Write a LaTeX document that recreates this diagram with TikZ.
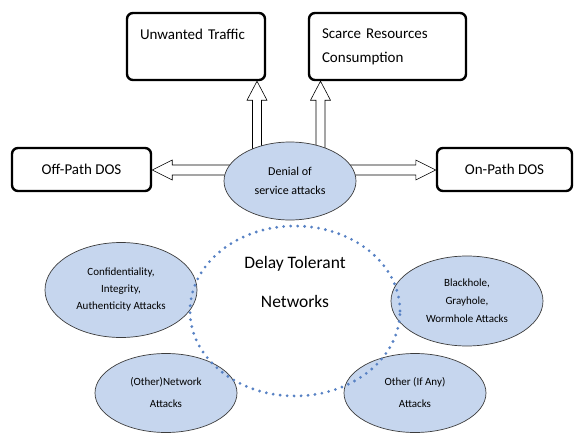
\documentclass[tikz,border=0pt]{standalone}
\usepackage{fontspec}
\setmainfont{Carlito}
\usetikzlibrary{shapes.geometric,calc}
\definecolor{ellfill}{RGB}{198,214,238}
\definecolor{ellline}{RGB}{60,60,60}
\definecolor{dotblue}{RGB}{88,130,196}
\tikzset{
  boxsty/.style={draw=black, line width=2.4pt, rounded corners=6pt, fill=white, inner sep=0pt},
  ellsty/.style={ellipse, draw=ellline, line width=0.7pt, fill=ellfill, inner sep=0pt, align=center},
  dtnsty/.style={ellipse, draw=dotblue, line width=3.1pt, dash pattern=on 0pt off 7pt, line cap=round, inner sep=0pt},
  arrsty/.style={draw=black, line width=0.6pt, fill=white, line join=miter},
}
% block arrow: start, end, shaft half width, head half width, head length
\newcommand\blockarr[5]{%
  \coordinate (bah) at ($(#2)!#5!(#1)$);
  \draw[arrsty] ($(#1)!#3!90:(#2)$) -- ($(bah)!#3!-90:(#1)$) -- ($(bah)!#4!-90:(#1)$)
    -- (#2) -- ($(bah)!#4!90:(#1)$) -- ($(bah)!#3!90:(#1)$) -- ($(#1)!#3!-90:(#2)$) -- cycle;
}
\begin{document}
\begin{tikzpicture}[x=1pt,y=1pt]
\useasboundingbox (0,0) rectangle (574,-434);
% boxes
\node[boxsty, minimum width=138pt, minimum height=67pt, text width=112pt, align=left,
  font=\fontsize{15}{24}\selectfont] (unw) at (196,-46.5) {Unwanted Traffic\\\mbox{}};
\node[boxsty, minimum width=157pt, minimum height=67pt, text width=131pt, align=left,
  font=\fontsize{15}{24}\selectfont] (sca) at (387.5,-46.5) {Scarce Resources\\Consumption};
\node[boxsty, minimum width=139pt, minimum height=43pt, font=\fontsize{15}{18}\selectfont] (off) at (81.5,-169.5) {Off-Path DOS};
\node[boxsty, minimum width=135pt, minimum height=43pt, font=\fontsize{15}{18}\selectfont] (on) at (504.5,-169.5) {On-Path DOS};
% centre ellipse position
\coordinate (dosc) at (290,-181);
\coordinate (u1) at ($(dosc)+(-33,0)$);
\coordinate (u2) at ($(dosc)+(30.5,0)$);
\coordinate (h1) at ($(dosc)+(0,11)$);
\coordinate (u1e) at (u1 |- unw.south);
\coordinate (u2e) at (u2 |- sca.south);
\coordinate (h1l) at (h1 -| off.east);
\coordinate (h1r) at (h1 -| on.west);
\blockarr{u1}{u1e}{4.5pt}{10pt}{19pt}
\blockarr{u2}{u2e}{4.5pt}{10pt}{19pt}
\blockarr{h1}{h1l}{5pt}{10pt}{20pt}
\blockarr{h1}{h1r}{5pt}{10pt}{20pt}
% ellipses
\node[ellsty, minimum width=132pt, minimum height=78pt, font=\fontsize{12}{19}\selectfont] (dos) at (dosc) {Denial of\\service attacks};
\node[ellsty, minimum width=152pt, minimum height=95pt, font=\fontsize{11}{17}\selectfont] (conf) at (121,-290) {Confidentiality,\\Integrity,\\Authenticity Attacks};
\node[ellsty, minimum width=152pt, minimum height=90pt, font=\fontsize{11}{18}\selectfont] (bh) at (467,-301) {Blackhole,\\Grayhole,\\Wormhole Attacks};
\node[ellsty, minimum width=142pt, minimum height=79pt, font=\fontsize{11}{22}\selectfont] (onet) at (166,-393) {(Other)Network\\Attacks};
\node[ellsty, minimum width=142pt, minimum height=79pt, font=\fontsize{11}{22}\selectfont] (oif) at (415,-393) {Other (If Any)\\Attacks};
% DTN
\node[dtnsty, minimum width=210pt, minimum height=170pt] (dtn) at (295,-311) {};
\node[align=center, font=\fontsize{17.5}{39}\selectfont, inner sep=0pt] (dtnt) at (295,-282) {Delay Tolerant\\Networks};
\end{tikzpicture}
\end{document}
